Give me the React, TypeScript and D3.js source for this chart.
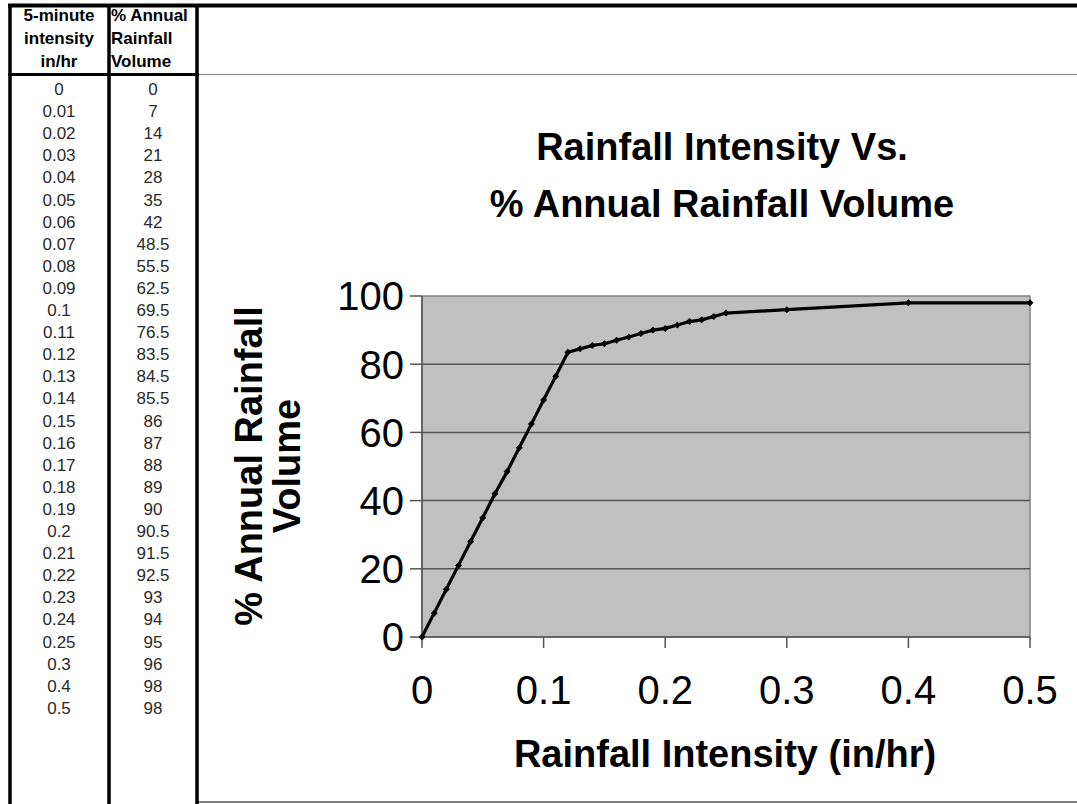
import React from "react";
import * as d3 from "d3";

const intensity = [0, 0.01, 0.02, 0.03, 0.04, 0.05, 0.06, 0.07, 0.08, 0.09, 0.1, 0.11, 0.12, 0.13, 0.14, 0.15, 0.16, 0.17, 0.18, 0.19, 0.2, 0.21, 0.22, 0.23, 0.24, 0.25, 0.3, 0.4, 0.5];
const volume = [0, 7, 14, 21, 28, 35, 42, 48.5, 55.5, 62.5, 69.5, 76.5, 83.5, 84.5, 85.5, 86, 87, 88, 89, 90, 90.5, 91.5, 92.5, 93, 94, 95, 96, 98, 98];
const intensityLabels = ["0", "0.01", "0.02", "0.03", "0.04", "0.05", "0.06", "0.07", "0.08", "0.09", "0.1", "0.11", "0.12", "0.13", "0.14", "0.15", "0.16", "0.17", "0.18", "0.19", "0.2", "0.21", "0.22", "0.23", "0.24", "0.25", "0.3", "0.4", "0.5"];
const volumeLabels = ["0", "7", "14", "21", "28", "35", "42", "48.5", "55.5", "62.5", "69.5", "76.5", "83.5", "84.5", "85.5", "86", "87", "88", "89", "90", "90.5", "91.5", "92.5", "93", "94", "95", "96", "98", "98"];
const xTicks = [0, 0.1, 0.2, 0.3, 0.4, 0.5];
const yTicks = [0, 20, 40, 60, 80, 100];
const header1 = ["5-minute", "intensity", "in/hr"];
const header2 = ["% Annual", "Rainfall", "Volume"];
const titleLines = ["Rainfall Intensity Vs.", "% Annual Rainfall Volume"];
const yTitleLines = ["% Annual Rainfall", "Volume"];
const xTitle = "Rainfall Intensity (in/hr)";

const F = "'Liberation Sans', Arial, sans-serif";

export default function App() {
  const x = d3.scaleLinear().domain([0, 0.5]).range([422, 1030]);
  const y = d3.scaleLinear().domain([0, 100]).range([637, 296]);
  const pts = intensity.map((v, i) => [v, volume[i]] as [number, number]);
  const line = d3.line<[number, number]>().x((d) => x(d[0])).y((d) => y(d[1]))(pts) || "";
  const rowY = (i: number) => 95 + i * 22.1;

  return (
    <div style={{ position: "fixed", left: 0, top: 0 }}>
      <svg width={1077} height={804} style={{ display: "block", background: "#fff" }}>
        {/* table */}
        {header1.map((t, i) => (
          <text key={"h1" + i} x={59} y={21 + i * 23} textAnchor="middle" fontFamily={F} fontWeight="bold" fontSize={17} fill="#000">{t}</text>
        ))}
        {header2.map((t, i) => (
          <text key={"h2" + i} x={111} y={21 + i * 23} textAnchor="start" fontFamily={F} fontWeight="bold" fontSize={17} fill="#000">{t}</text>
        ))}
        {intensityLabels.map((t, i) => (
          <text key={"c1" + i} x={59} y={rowY(i)} textAnchor="middle" fontFamily={F} fontSize={17} fill="#2a2a2a">{t}</text>
        ))}
        {volumeLabels.map((t, i) => (
          <text key={"c2" + i} x={153} y={rowY(i)} textAnchor="middle" fontFamily={F} fontSize={17} fill="#2a2a2a">{t}</text>
        ))}
        <line x1={198} x2={1077} y1={74.5} y2={74.5} stroke="#808080" strokeWidth={1} />
        <line x1={198} x2={1077} y1={802} y2={802} stroke="#808080" strokeWidth={2} />
        <line x1={8} x2={1077} y1={5.5} y2={5.5} stroke="#000" strokeWidth={4} />
        <line x1={8} x2={199} y1={74.5} y2={74.5} stroke="#000" strokeWidth={3} />
        <line x1={10} x2={10} y1={4} y2={804} stroke="#000" strokeWidth={3.5} />
        <line x1={109} x2={109} y1={4} y2={804} stroke="#000" strokeWidth={3.5} />
        <line x1={197} x2={197} y1={4} y2={804} stroke="#000" strokeWidth={3.5} />

        {/* title */}
        {titleLines.map((t, i) => (
          <text key={"t" + i} x={722} y={160 + i * 57} textAnchor="middle" fontFamily={F} fontWeight="bold" fontSize={38} fill="#000">{t}</text>
        ))}

        {/* plot area */}
        <rect x={x(0)} y={y(100)} width={x(0.5) - x(0)} height={y(0) - y(100)} fill="#c0c0c0" stroke="#808080" strokeWidth={1.5} />
        {yTicks.filter((t) => t > 0 && t < 100).map((t) => (
          <line key={"g" + t} x1={x(0)} x2={x(0.5)} y1={y(t)} y2={y(t)} stroke="#555" strokeWidth={1.5} />
        ))}
        <line x1={x(0)} x2={x(0)} y1={y(100)} y2={y(0)} stroke="#555" strokeWidth={1.5} />
        <line x1={x(0)} x2={x(0.5)} y1={y(0)} y2={y(0)} stroke="#555" strokeWidth={1.5} />
        {yTicks.map((t) => (
          <g key={"yt" + t}>
            <line x1={x(0) - 12} x2={x(0)} y1={y(t)} y2={y(t)} stroke="#555" strokeWidth={1.5} />
            <text x={404} y={y(t)} dy="0.36em" textAnchor="end" fontFamily={F} fontSize={40} fill="#000">{String(t)}</text>
          </g>
        ))}
        {xTicks.map((t) => (
          <g key={"xt" + t}>
            <line x1={x(t)} x2={x(t)} y1={y(0)} y2={y(0) + 11} stroke="#555" strokeWidth={1.5} />
            <text x={x(t)} y={704} textAnchor="middle" fontFamily={F} fontSize={40} fill="#000">{String(t)}</text>
          </g>
        ))}

        <path d={line} fill="none" stroke="#000" strokeWidth={3.2} strokeLinejoin="round" />
        {pts.map((p, i) => {
          const cx = x(p[0]);
          const cy = y(p[1]);
          return <path key={"m" + i} d={`M${cx - 3.5},${cy}L${cx},${cy - 3.5}L${cx + 3.5},${cy}L${cx},${cy + 3.5}Z`} fill="#000" />;
        })}

        {/* axis titles */}
        {yTitleLines.map((t, i) => (
          <text key={"yl" + i} transform={`translate(${262 + i * 38},466) rotate(-90)`} textAnchor="middle" fontFamily={F} fontWeight="bold" fontSize={38} fill="#000">{t}</text>
        ))}
        <text x={725} y={767} textAnchor="middle" fontFamily={F} fontWeight="bold" fontSize={38} fill="#000">{xTitle}</text>
      </svg>
    </div>
  );
}
